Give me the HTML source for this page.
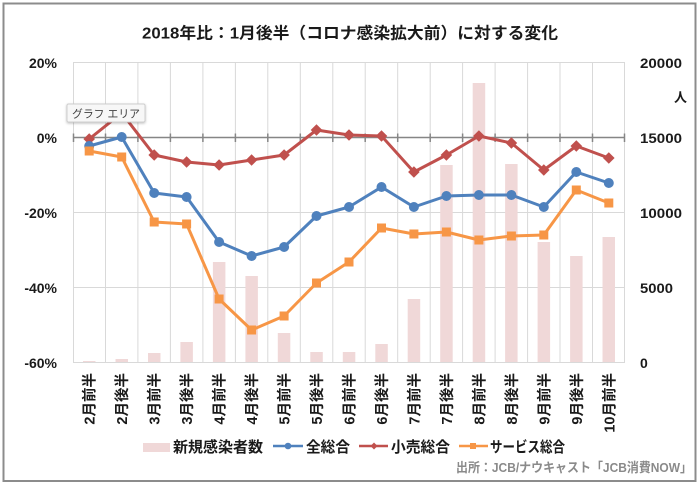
<!DOCTYPE html>
<html>
<head>
<meta charset="utf-8">
<style>
html,body{margin:0;padding:0;background:#fff;}
svg{display:block;}
text{font-family:"Liberation Sans","Noto Sans CJK JP",sans-serif;font-weight:bold;fill:#1a1a1a;}
</style>
</head>
<body>
<svg width="700" height="484" viewBox="0 0 700 484" xmlns="http://www.w3.org/2000/svg">
<defs>
  <path id="dm" d="M0,-5.8 L5.8,0 L0,5.8 L-5.8,0Z" fill="#c0504d"/>
  <path id="dms" d="M0,-3.5 L3.5,0 L0,3.5 L-3.5,0Z" fill="#c0504d"/>
  <filter id="sh" x="-20%" y="-30%" width="140%" height="170%">
    <feDropShadow dx="0" dy="1" stdDeviation="1.2" flood-color="#000" flood-opacity="0.25"/>
  </filter>
</defs>
<rect x="0" y="0" width="700" height="484" fill="#fff"/>
<rect x="3.5" y="3.5" width="692" height="477.5" fill="#fff" stroke="#8c8c8c" stroke-width="2"/>

<!-- title -->
<text x="350" y="38.5" font-size="16" text-anchor="middle" textLength="416" lengthAdjust="spacingAndGlyphs">2018年比：1月後半（コロナ感染拡大前）に対する変化</text>

<!-- horizontal gridlines -->
<g stroke="#d9d9d9" stroke-width="1">
  <line x1="73" y1="62.5" x2="625" y2="62.5"/>
  <line x1="73" y1="212.5" x2="625" y2="212.5"/>
  <line x1="73" y1="287.5" x2="625" y2="287.5"/>
  <line x1="73" y1="362.5" x2="625" y2="362.5"/>
</g>
<!-- vertical gridlines -->
<g stroke="#d9d9d9" stroke-width="1">
  <line x1="73.5" y1="62" x2="73.5" y2="362"/>
  <line x1="105.5" y1="62" x2="105.5" y2="362"/>
  <line x1="137.9" y1="62" x2="137.9" y2="362"/>
  <line x1="170.4" y1="62" x2="170.4" y2="362"/>
  <line x1="202.9" y1="62" x2="202.9" y2="362"/>
  <line x1="235.4" y1="62" x2="235.4" y2="362"/>
  <line x1="267.8" y1="62" x2="267.8" y2="362"/>
  <line x1="300.3" y1="62" x2="300.3" y2="362"/>
  <line x1="332.8" y1="62" x2="332.8" y2="362"/>
  <line x1="365.2" y1="62" x2="365.2" y2="362"/>
  <line x1="397.7" y1="62" x2="397.7" y2="362"/>
  <line x1="430.2" y1="62" x2="430.2" y2="362"/>
  <line x1="462.6" y1="62" x2="462.6" y2="362"/>
  <line x1="495.1" y1="62" x2="495.1" y2="362"/>
  <line x1="527.6" y1="62" x2="527.6" y2="362"/>
  <line x1="560" y1="62" x2="560" y2="362"/>
  <line x1="592.5" y1="62" x2="592.5" y2="362"/>
  <line x1="624.5" y1="62" x2="624.5" y2="362"/>
</g>

<!-- bars -->
<g fill="#f0d8d8">
  <rect x="83" y="361" width="12.5" height="1"/>
  <rect x="115.5" y="359" width="12.5" height="3"/>
  <rect x="148" y="353" width="12.5" height="9"/>
  <rect x="180.4" y="342" width="12.5" height="20"/>
  <rect x="212.9" y="262" width="12.5" height="100"/>
  <rect x="245.4" y="276" width="12.5" height="86"/>
  <rect x="277.8" y="333" width="12.5" height="29"/>
  <rect x="310.3" y="352" width="12.5" height="10"/>
  <rect x="342.8" y="352" width="12.5" height="10"/>
  <rect x="375.3" y="344" width="12.5" height="18"/>
  <rect x="407.7" y="299" width="12.5" height="63"/>
  <rect x="440.2" y="165" width="12.5" height="197"/>
  <rect x="472.7" y="83" width="12.5" height="279"/>
  <rect x="505.1" y="164" width="12.5" height="198"/>
  <rect x="537.6" y="242" width="12.5" height="120"/>
  <rect x="570.1" y="256" width="12.5" height="106"/>
  <rect x="602.5" y="237" width="12.5" height="125"/>
</g>

<!-- 0% axis -->
<g stroke="#868686" stroke-width="1.5">
  <line x1="73" y1="137.5" x2="625" y2="137.5"/>
  <line x1="73.5" y1="133.5" x2="73.5" y2="142"/>
  <line x1="105.5" y1="133.5" x2="105.5" y2="142"/>
  <line x1="137.9" y1="133.5" x2="137.9" y2="142"/>
  <line x1="170.4" y1="133.5" x2="170.4" y2="142"/>
  <line x1="202.9" y1="133.5" x2="202.9" y2="142"/>
  <line x1="235.4" y1="133.5" x2="235.4" y2="142"/>
  <line x1="267.8" y1="133.5" x2="267.8" y2="142"/>
  <line x1="300.3" y1="133.5" x2="300.3" y2="142"/>
  <line x1="332.8" y1="133.5" x2="332.8" y2="142"/>
  <line x1="365.2" y1="133.5" x2="365.2" y2="142"/>
  <line x1="397.7" y1="133.5" x2="397.7" y2="142"/>
  <line x1="430.2" y1="133.5" x2="430.2" y2="142"/>
  <line x1="462.6" y1="133.5" x2="462.6" y2="142"/>
  <line x1="495.1" y1="133.5" x2="495.1" y2="142"/>
  <line x1="527.6" y1="133.5" x2="527.6" y2="142"/>
  <line x1="560" y1="133.5" x2="560" y2="142"/>
  <line x1="592.5" y1="133.5" x2="592.5" y2="142"/>
  <line x1="624.5" y1="133.5" x2="624.5" y2="142"/>
</g>

<!-- red 小売総合 -->
<polyline fill="none" stroke="#c0504d" stroke-width="3" stroke-linejoin="round"
 points="89.2,139 121.7,113 154.2,155 186.6,162 219.1,165 251.6,160 284.1,155 316.5,130 349,135 381.5,136 413.9,172 446.4,155 478.9,136 511.4,143 543.8,170 576.3,146 608.8,158"/>
<g>
  <use href="#dm" x="89.2" y="139"/><use href="#dm" x="121.7" y="113"/><use href="#dm" x="154.2" y="155"/>
  <use href="#dm" x="186.6" y="162"/><use href="#dm" x="219.1" y="165"/><use href="#dm" x="251.6" y="160"/>
  <use href="#dm" x="284.1" y="155"/><use href="#dm" x="316.5" y="130"/><use href="#dm" x="349" y="135"/>
  <use href="#dm" x="381.5" y="136"/><use href="#dm" x="413.9" y="172"/><use href="#dm" x="446.4" y="155"/>
  <use href="#dm" x="478.9" y="136"/><use href="#dm" x="511.4" y="143"/><use href="#dm" x="543.8" y="170"/>
  <use href="#dm" x="576.3" y="146"/><use href="#dm" x="608.8" y="158"/>
</g>

<!-- blue 全総合 -->
<polyline fill="none" stroke="#4f81bd" stroke-width="3" stroke-linejoin="round"
 points="89.2,146 121.7,137 154.2,193 186.6,197 219.1,242 251.6,256 284.1,247 316.5,216 349,207 381.5,187 413.9,207 446.4,196 478.9,195 511.4,195 543.8,207 576.3,172 608.8,183"/>
<g fill="#4f81bd">
  <circle cx="89.2" cy="146" r="5"/><circle cx="121.7" cy="137" r="5"/><circle cx="154.2" cy="193" r="5"/>
  <circle cx="186.6" cy="197" r="5"/><circle cx="219.1" cy="242" r="5"/><circle cx="251.6" cy="256" r="5"/>
  <circle cx="284.1" cy="247" r="5"/><circle cx="316.5" cy="216" r="5"/><circle cx="349" cy="207" r="5"/>
  <circle cx="381.5" cy="187" r="5"/><circle cx="413.9" cy="207" r="5"/><circle cx="446.4" cy="196" r="5"/>
  <circle cx="478.9" cy="195" r="5"/><circle cx="511.4" cy="195" r="5"/><circle cx="543.8" cy="207" r="5"/>
  <circle cx="576.3" cy="172" r="5"/><circle cx="608.8" cy="183" r="5"/>
</g>

<!-- orange サービス総合 -->
<polyline fill="none" stroke="#f79646" stroke-width="3" stroke-linejoin="round"
 points="89.2,151 121.7,157 154.2,222 186.6,224 219.1,299 251.6,330 284.1,316 316.5,283 349,262 381.5,228 413.9,234 446.4,232 478.9,240 511.4,236 543.8,235 576.3,190 608.8,203"/>
<g fill="#f79646">
  <rect x="84.7" y="146.5" width="9" height="9"/><rect x="117.2" y="152.5" width="9" height="9"/>
  <rect x="149.7" y="217.5" width="9" height="9"/><rect x="182.1" y="219.5" width="9" height="9"/>
  <rect x="214.6" y="294.5" width="9" height="9"/><rect x="247.1" y="325.5" width="9" height="9"/>
  <rect x="279.6" y="311.5" width="9" height="9"/><rect x="312" y="278.5" width="9" height="9"/>
  <rect x="344.5" y="257.5" width="9" height="9"/><rect x="377" y="223.5" width="9" height="9"/>
  <rect x="409.4" y="229.5" width="9" height="9"/><rect x="441.9" y="227.5" width="9" height="9"/>
  <rect x="474.4" y="235.5" width="9" height="9"/><rect x="506.9" y="231.5" width="9" height="9"/>
  <rect x="539.3" y="230.5" width="9" height="9"/><rect x="571.8" y="185.5" width="9" height="9"/>
  <rect x="604.3" y="198.5" width="9" height="9"/>
</g>

<!-- tooltip -->
<rect x="67" y="104" width="78" height="18" rx="1.5" fill="#f7f7f7" stroke="#cfcfcf" stroke-width="1" filter="url(#sh)"/>
<text x="72" y="117.5" font-size="11" font-weight="normal" style="font-weight:normal;fill:#404040" textLength="68" lengthAdjust="spacingAndGlyphs">グラフ エリア</text>

<!-- left axis labels -->
<g font-size="14" text-anchor="end">
  <text x="57" y="68">20%</text>
  <text x="57" y="143">0%</text>
  <text x="57" y="218">-20%</text>
  <text x="57" y="293">-40%</text>
  <text x="57" y="368">-60%</text>
</g>
<!-- right axis labels -->
<g font-size="14">
  <text x="640" y="68" textLength="42" lengthAdjust="spacingAndGlyphs">20000</text>
  <text x="640" y="143" textLength="42" lengthAdjust="spacingAndGlyphs">15000</text>
  <text x="640" y="218" textLength="42" lengthAdjust="spacingAndGlyphs">10000</text>
  <text x="640" y="293" textLength="33" lengthAdjust="spacingAndGlyphs">5000</text>
  <text x="640" y="368">0</text>
  <text x="674" y="102" font-size="13">人</text>
</g>

<!-- x labels -->
<g font-size="14.5" text-anchor="end">
  <text transform="translate(94.7,373) rotate(-90)">2月前半</text>
  <text transform="translate(127.2,373) rotate(-90)">2月後半</text>
  <text transform="translate(159.7,373) rotate(-90)">3月前半</text>
  <text transform="translate(192.1,373) rotate(-90)">3月後半</text>
  <text transform="translate(224.6,373) rotate(-90)">4月前半</text>
  <text transform="translate(257.1,373) rotate(-90)">4月後半</text>
  <text transform="translate(289.6,373) rotate(-90)">5月前半</text>
  <text transform="translate(322,373) rotate(-90)">5月後半</text>
  <text transform="translate(354.5,373) rotate(-90)">6月前半</text>
  <text transform="translate(387,373) rotate(-90)">6月後半</text>
  <text transform="translate(419.4,373) rotate(-90)">7月前半</text>
  <text transform="translate(451.9,373) rotate(-90)">7月後半</text>
  <text transform="translate(484.4,373) rotate(-90)">8月前半</text>
  <text transform="translate(516.9,373) rotate(-90)">8月後半</text>
  <text transform="translate(549.3,373) rotate(-90)">9月前半</text>
  <text transform="translate(581.8,373) rotate(-90)">9月後半</text>
  <text transform="translate(614.3,373) rotate(-90)">10月前半</text>
</g>

<!-- legend -->
<rect x="143" y="443" width="27" height="9" fill="#f0d8d8"/>
<text x="173" y="452" font-size="15" textLength="90" lengthAdjust="spacingAndGlyphs">新規感染者数</text>
<line x1="273" y1="446" x2="303" y2="446" stroke="#4f81bd" stroke-width="2.5"/>
<circle cx="288" cy="446" r="3.3" fill="#4f81bd"/>
<text x="306" y="452" font-size="15" textLength="44" lengthAdjust="spacingAndGlyphs">全総合</text>
<line x1="359" y1="446" x2="388" y2="446" stroke="#c0504d" stroke-width="2.5"/>
<use href="#dms" x="374" y="446"/>
<text x="391" y="452" font-size="15" textLength="59" lengthAdjust="spacingAndGlyphs">小売総合</text>
<line x1="459" y1="446" x2="488" y2="446" stroke="#f79646" stroke-width="2.5"/>
<rect x="470" y="443" width="6" height="6" fill="#f79646"/>
<text x="490" y="452" font-size="15" textLength="75" lengthAdjust="spacingAndGlyphs">サービス総合</text>

<!-- source -->
<text x="456" y="472" font-size="13" style="fill:#8a8a8a" textLength="236" lengthAdjust="spacingAndGlyphs">出所：JCB/ナウキャスト「JCB消費NOW」</text>
</svg>
</body>
</html>
